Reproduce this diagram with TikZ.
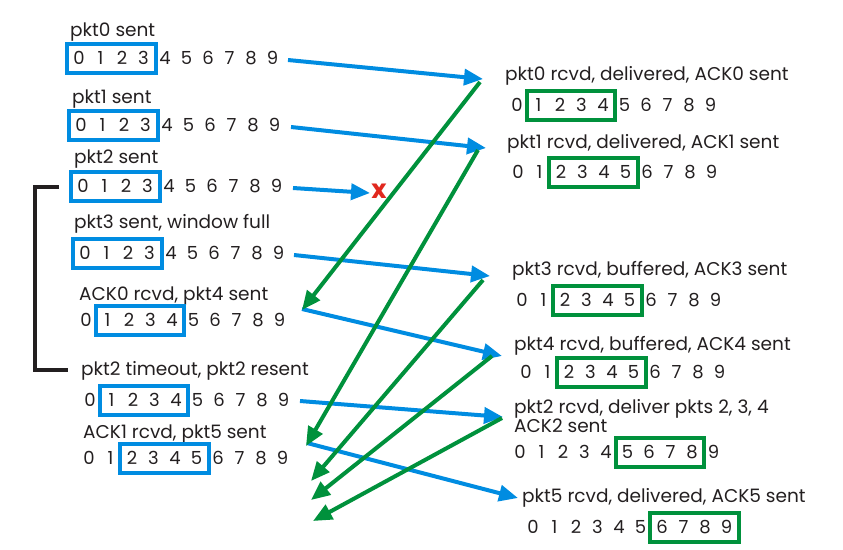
\documentclass[tikz,border=0pt]{standalone}
\usepackage{fontspec}
\setmainfont{Poppins}
\usetikzlibrary{arrows.meta,calc}

\definecolor{pktblue}{RGB}{0,140,225}
\definecolor{ackgreen}{RGB}{0,145,60}
\definecolor{lossred}{RGB}{225,40,30}
\definecolor{ink}{RGB}{35,31,32}

\begin{document}
\begin{tikzpicture}[
  x=1pt, y=-1pt,
  lbl/.style={anchor=west, inner sep=0pt, text=ink,
              font=\fontsize{18.5}{19.5}\selectfont, align=left},
  dgt/.style={inner sep=0pt, text=ink, font=\fontsize{18}{19}\selectfont},
  sndbox/.style={draw=pktblue, line width=4pt},
  rcvbox/.style={draw=ackgreen, line width=4pt},
  pkt/.style={pktblue, line width=4pt, -{Triangle[length=19pt,width=16pt]}},
  ack/.style={ackgreen, line width=4pt, -{Triangle[length=19pt,width=16pt]}},
  tmr/.style={ink, line width=4pt}
]
  \useasboundingbox (0,0) rectangle (843,549);

  % sender side
  \node[lbl] (s0l) at (70,32)  {pkt0 sent};
  \node[lbl] (s1l) at (72,99)  {pkt1 sent};
  \node[lbl] (s2l) at (74,159) {pkt2 sent};
  \node[lbl] (s3l) at (74,224) {pkt3 sent, window full};
  \node[lbl] (s4l) at (79,296) {ACK0 rcvd, pkt4 sent};
  \node[lbl] (s5l) at (81,371) {pkt2 timeout, pkt2 resent};
  \node[lbl] (s6l) at (83,434) {ACK1 rcvd, pkt5 sent};

  % receiver side
  \node[lbl] (r0l) at (505,76)  {pkt0 rcvd, delivered, ACK0 sent};
  \node[lbl] (r1l) at (507,144) {pkt1 rcvd, delivered, ACK1 sent};
  \node[lbl] (r3l) at (512,271) {pkt3 rcvd, buffered, ACK3 sent};
  \node[lbl] (r4l) at (514,346) {pkt4 rcvd, buffered, ACK4 sent};
  \node[lbl] (r2l) at (514,416) {pkt2 rcvd, deliver pkts 2, 3, 4\\ACK2 sent};
  \node[lbl] (r5l) at (522,498) {pkt5 rcvd, delivered, ACK5 sent};

  % sequence numbers and windows
  \foreach \r/\x/\y/\a/\b/\bx in {
      s0/79/58/0/3/sndbox, s1/81/125/0/3/sndbox, s2/83/186/0/3/sndbox,
      s3/85/253/0/3/sndbox, s4/86/320/1/4/sndbox, s5/90/400/1/4/sndbox,
      s6/89/458/2/5/sndbox,
      r0/517/105/1/4/rcvbox, r1/518/172/2/5/rcvbox, r3/522/300/2/5/rcvbox,
      r4/526/372/2/5/rcvbox, r2/520/452/5/8/rcvbox, r5/533/527/6/9/rcvbox}
  {
    \foreach \d in {0,...,9}
      \node[dgt] (\r-\d) at ({\x+21.5*\d},\y) {\d};
    \draw[\bx] ($(\r-\a)+(-12,-14.5)$) rectangle ($(\r-\b)+(12,14.5)$);
  }

  % arrow ends
  \coordinate (tx0) at (288,60);  \coordinate (rx0) at (483,79);
  \coordinate (tx1) at (291,127); \coordinate (rx1) at (486,148);
  \coordinate (tx2) at (293,188); \coordinate (drop) at (370,193);
  \coordinate (tx3) at (294,255); \coordinate (rx3) at (490,276);
  \coordinate (tx4) at (302,309); \coordinate (rx4) at (502,356);
  \coordinate (tx5) at (300,401); \coordinate (rx2) at (503,417);
  \coordinate (tx6) at (307,443); \coordinate (rx5) at (518,498);

  \coordinate (ak0) at (480,82);  \coordinate (ag0) at (302,310);
  \coordinate (ak1) at (478,150); \coordinate (ag1) at (306,446);
  \coordinate (ak3) at (483,280); \coordinate (ag3) at (311,481);
  \coordinate (ak4) at (492,356); \coordinate (ag4) at (311,500);
  \coordinate (ak2) at (502,418); \coordinate (ag2) at (313,521);

  \draw[pkt] (tx0)--(rx0);
  \draw[pkt] (tx1)--(rx1);
  \draw[pkt] (tx2)--(drop);
  \draw[pkt] (tx3)--(rx3);
  \draw[pkt] (tx4)--(rx4);
  \draw[pkt] (tx5)--(rx2);
  \draw[pkt] (tx6)--(rx5);

  \node[text=lossred, font=\fontsize{26}{28}\selectfont\bfseries,
        inner sep=0pt] (loss) at (379,191) {x};

  \draw[ack] (ak0)--(ag0);
  \draw[ack] (ak1)--(ag1);
  \draw[ack] (ak3)--(ag3);
  \draw[ack] (ak4)--(ag4);
  \draw[ack] (ak2)--(ag2);

  % pkt2 timer
  \coordinate (tmr0) at (59,187);
  \coordinate (tmr1) at (68,370);
  \draw[tmr] (tmr0) -- ++(-24,0) |- (tmr1);
\end{tikzpicture}
\end{document}
